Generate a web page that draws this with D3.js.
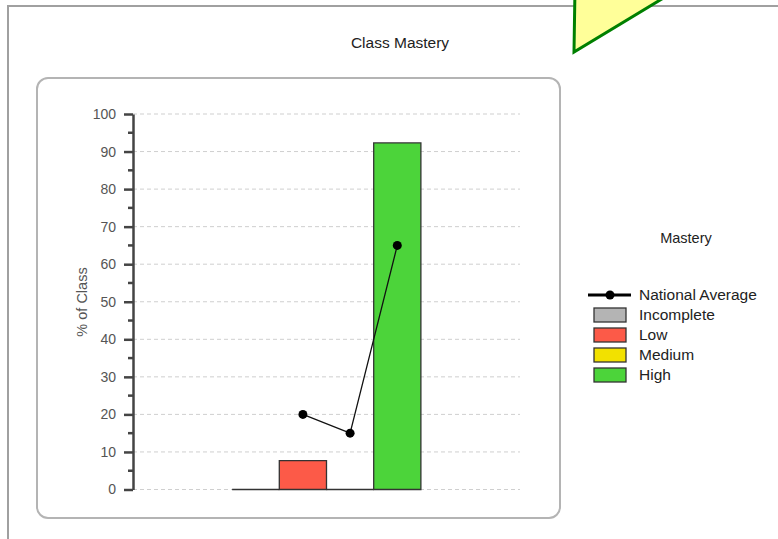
<!DOCTYPE html>
<html>
<head>
<meta charset="utf-8">
<script src="https://cdn.jsdelivr.net/npm/d3@7"></script>
<style>
  body { margin: 0; background: #fff; }
  text { font-family: "Liberation Sans", Arial, sans-serif; }
</style>
</head>
<body>
<div id="chart"></div>
<script>
var categories = ["Incomplete", "Low", "Medium", "High"];
var classPct = [0, 7.69, 0, 92.31];
var nationalAvg = [null, 20, 15, 65];
var colors = ["#b4b4b4", "#fc5a48", "#f2e100", "#4cd43a"];
var yTicks = [0, 10, 20, 30, 40, 50, 60, 70, 80, 90, 100];
var yMinorTicks = [5, 15, 25, 35, 45, 55, 65, 75, 85, 95];

var width = 778, height = 539;

var svg = d3.select("#chart")
    .append("svg")
    .attr("width", width)
    .attr("height", height);

svg.append("rect").attr("width", width).attr("height", height).attr("fill", "#fff");

// outer frame (only top and left edges visible)
svg.append("path")
    .attr("d", "M8,539 V6 H778")
    .attr("fill", "none")
    .attr("stroke", "#a0a0a0")
    .attr("stroke-width", 2);

// callout pointer poking in from the top
svg.append("polygon")
    .attr("points", "575,-12 680,-12 574,52")
    .attr("fill", "#ffff99")
    .attr("stroke", "#008000")
    .attr("stroke-width", 3);

// title
svg.append("text")
    .attr("x", 400)
    .attr("y", 48)
    .attr("text-anchor", "middle")
    .style("font-size", "15.5px")
    .attr("fill", "#222")
    .text("Class Mastery");

// plot panel
svg.append("rect")
    .attr("x", 37).attr("y", 78)
    .attr("width", 523).attr("height", 440)
    .attr("rx", 11)
    .attr("fill", "#fff")
    .attr("stroke", "#b4b4b4")
    .attr("stroke-width", 2);

var y = d3.scaleLinear()
    .domain([0, 100])
    .range([489.5, 114]);

var x = d3.scaleBand()
    .domain(categories)
    .range([133, 520])
    .paddingInner(0)
    .paddingOuter(2.1);

// gridlines
svg.append("g")
    .selectAll("line")
    .data(yTicks)
    .enter()
    .append("line")
    .attr("x1", 133)
    .attr("x2", 520)
    .attr("y1", function (d) { return y(d); })
    .attr("y2", function (d) { return y(d); })
    .attr("stroke", "#cfcfcf")
    .attr("stroke-dasharray", "4,3");

// bars (paths so that zero values still show their outline)
svg.append("g")
    .selectAll("path")
    .data(categories)
    .enter()
    .append("path")
    .attr("d", function (d, i) {
        var x0 = x(d), x1 = x(d) + x.bandwidth();
        return "M" + x0 + "," + y(0) + "V" + y(classPct[i]) + "H" + x1 + "V" + y(0) + "Z";
    })
    .attr("fill", function (d, i) { return colors[i]; })
    .attr("stroke", "#333")
    .attr("stroke-width", 1.3);

// y axis
var yAxis = svg.append("g")
    .attr("transform", "translate(133,0)")
    .call(d3.axisLeft(y).tickValues(yTicks).tickSize(9).tickSizeOuter(0).tickPadding(8));
yAxis.select(".domain").attr("stroke", "#444").attr("stroke-width", 2.5);
yAxis.selectAll(".tick line").attr("stroke", "#444").attr("stroke-width", 2.5);
yAxis.selectAll(".tick text")
    .attr("fill", "#555")
    .style("font-family", "'Liberation Sans', Arial, sans-serif")
    .style("font-size", "14px");

svg.append("g")
    .selectAll("line")
    .data(yMinorTicks)
    .enter()
    .append("line")
    .attr("x1", 128).attr("x2", 133)
    .attr("y1", function (d) { return y(d); })
    .attr("y2", function (d) { return y(d); })
    .attr("stroke", "#444")
    .attr("stroke-width", 2.5);

svg.append("text")
    .attr("transform", "translate(87,302) rotate(-90)")
    .attr("text-anchor", "middle")
    .style("font-size", "14.5px")
    .attr("fill", "#555")
    .text("% of Class");

// national average line
var avgPts = categories.map(function (d, i) {
    return { cx: x(d) + x.bandwidth() / 2, v: nationalAvg[i] };
}).filter(function (d) { return d.v !== null; });

svg.append("path")
    .datum(avgPts)
    .attr("fill", "none")
    .attr("stroke", "#111")
    .attr("stroke-width", 1.3)
    .attr("d", d3.line()
        .x(function (d) { return d.cx; })
        .y(function (d) { return y(d.v); }));

svg.append("g")
    .selectAll("circle")
    .data(avgPts)
    .enter()
    .append("circle")
    .attr("cx", function (d) { return d.cx; })
    .attr("cy", function (d) { return y(d.v); })
    .attr("r", 4.5)
    .attr("fill", "#000");

// legend
svg.append("text")
    .attr("x", 686).attr("y", 243)
    .attr("text-anchor", "middle")
    .style("font-size", "14.5px")
    .attr("fill", "#222")
    .text("Mastery");

var lg = svg.append("g");
lg.append("line")
    .attr("x1", 588).attr("x2", 631)
    .attr("y1", 295).attr("y2", 295)
    .attr("stroke", "#000").attr("stroke-width", 3);
lg.append("circle")
    .attr("cx", 610).attr("cy", 295).attr("r", 4.5).attr("fill", "#000");
lg.append("text")
    .attr("x", 639).attr("y", 295)
    .attr("dy", "0.35em")
    .style("font-size", "15.5px")
    .attr("fill", "#222")
    .text("National Average");

var rows = lg.selectAll(".row")
    .data(categories)
    .enter()
    .append("g")
    .attr("transform", function (d, i) { return "translate(0," + (315 + i * 20) + ")"; });
rows.append("rect")
    .attr("x", 594).attr("y", -7)
    .attr("width", 32).attr("height", 14)
    .attr("fill", function (d, i) { return colors[i]; })
    .attr("stroke", "#333")
    .attr("stroke-width", 1.3);
rows.append("text")
    .attr("x", 639)
    .attr("dy", "0.35em")
    .style("font-size", "15.5px")
    .attr("fill", "#222")
    .text(function (d) { return d; });
</script>
</body>
</html>
